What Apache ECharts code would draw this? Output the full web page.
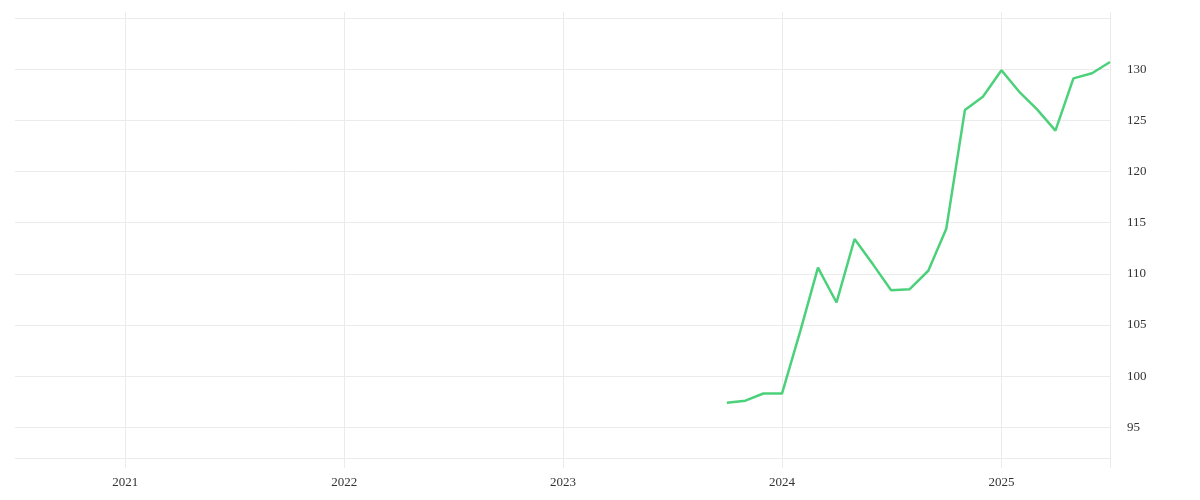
<!DOCTYPE html>
<html>
<head>
<meta charset="utf-8">
<script src="https://cdn.jsdelivr.net/npm/echarts@6/dist/echarts.min.js"></script>
<style>
  html, body { margin: 0; padding: 0; background: #fff; }
  #chart { width: 1200px; height: 500px; }
</style>
</head>
<body>
<div id="chart"></div>
<script>
// monthly index values, Oct 2023 .. Jul 2025
const months = [
    '2023-10-01', '2023-11-01', '2023-12-01', '2024-01-01', '2024-02-01', '2024-03-01',
    '2024-04-01', '2024-05-01', '2024-06-01', '2024-07-01', '2024-08-01', '2024-09-01',
    '2024-10-01', '2024-11-01', '2024-12-01', '2025-01-01', '2025-02-01', '2025-03-01',
    '2025-04-01', '2025-05-01', '2025-06-01', '2025-07-01'
];
const values = [
    97.4, 97.6, 98.3, 98.3, 104.5, 110.6,
    107.2, 113.4, 110.9, 108.4, 108.5, 110.3,
    114.4, 126.0, 127.3, 129.9, 127.7, 126.1,
    124.0, 129.1, 129.6, 130.7
];
const xRange = ['2020-07-01', '2025-07-01'];
const yRange = [92, 135];
// year boundaries that get a tick (plus the right edge)
const yearTicks = ['2021-01-01', '2022-01-01', '2023-01-01', '2024-01-01', '2025-01-01', '2025-07-01'];

const gridColor = '#ebebeb';
const labelFont = '"Liberation Serif", serif';
const YEAR = 365 * 24 * 3600 * 1000;

const chart = echarts.init(document.getElementById('chart'));

const tickValues = yearTicks.map(d => new Date(d).getTime());

const option = {
    animation: false,
    grid: { left: 15, right: 90, top: 18, bottom: 42, containLabel: false },
    xAxis: [
        {
            type: 'time',
            min: xRange[0],
            max: xRange[1],
            splitNumber: 5,
            minInterval: YEAR,
            axisLine: { show: false },
            axisTick: { show: true, length: 10, customValues: tickValues, lineStyle: { color: gridColor } },
            splitLine: { show: true, showMinLine: false, lineStyle: { color: gridColor, width: 1 } },
            axisLabel: {
                formatter: '{yyyy}',
                fontFamily: labelFont,
                fontSize: 13,
                fontWeight: 'normal',
                color: '#333',
                margin: 18,
                showMinLabel: false,
                showMaxLabel: false
            }
        },
        {
            type: 'time',
            position: 'top',
            min: xRange[0],
            max: xRange[1],
            splitNumber: 5,
            minInterval: YEAR,
            axisLine: { show: false },
            axisTick: { show: true, length: 6, customValues: tickValues, lineStyle: { color: gridColor } },
            splitLine: { show: false },
            axisLabel: { show: false }
        }
    ],
    yAxis: {
        type: 'value',
        position: 'right',
        min: yRange[0],
        max: yRange[1],
        splitNumber: 9,
        axisLine: { show: true, lineStyle: { color: gridColor } },
        axisTick: { show: false },
        splitLine: { show: true, lineStyle: { color: gridColor, width: 1 } },
        axisLabel: {
            fontFamily: labelFont,
            fontSize: 13,
            color: '#333',
            margin: 17,
            showMinLabel: false,
            showMaxLabel: false
        }
    },
    series: [
        {
            type: 'line',
            data: months.map((m, i) => [m, values[i]]),
            showSymbol: false,
            symbol: 'none',
            lineStyle: { color: '#4cd17b', width: 2.5 },
            itemStyle: { color: '#4cd17b' }
        }
    ]
};

chart.setOption(option);
</script>
</body>
</html>
